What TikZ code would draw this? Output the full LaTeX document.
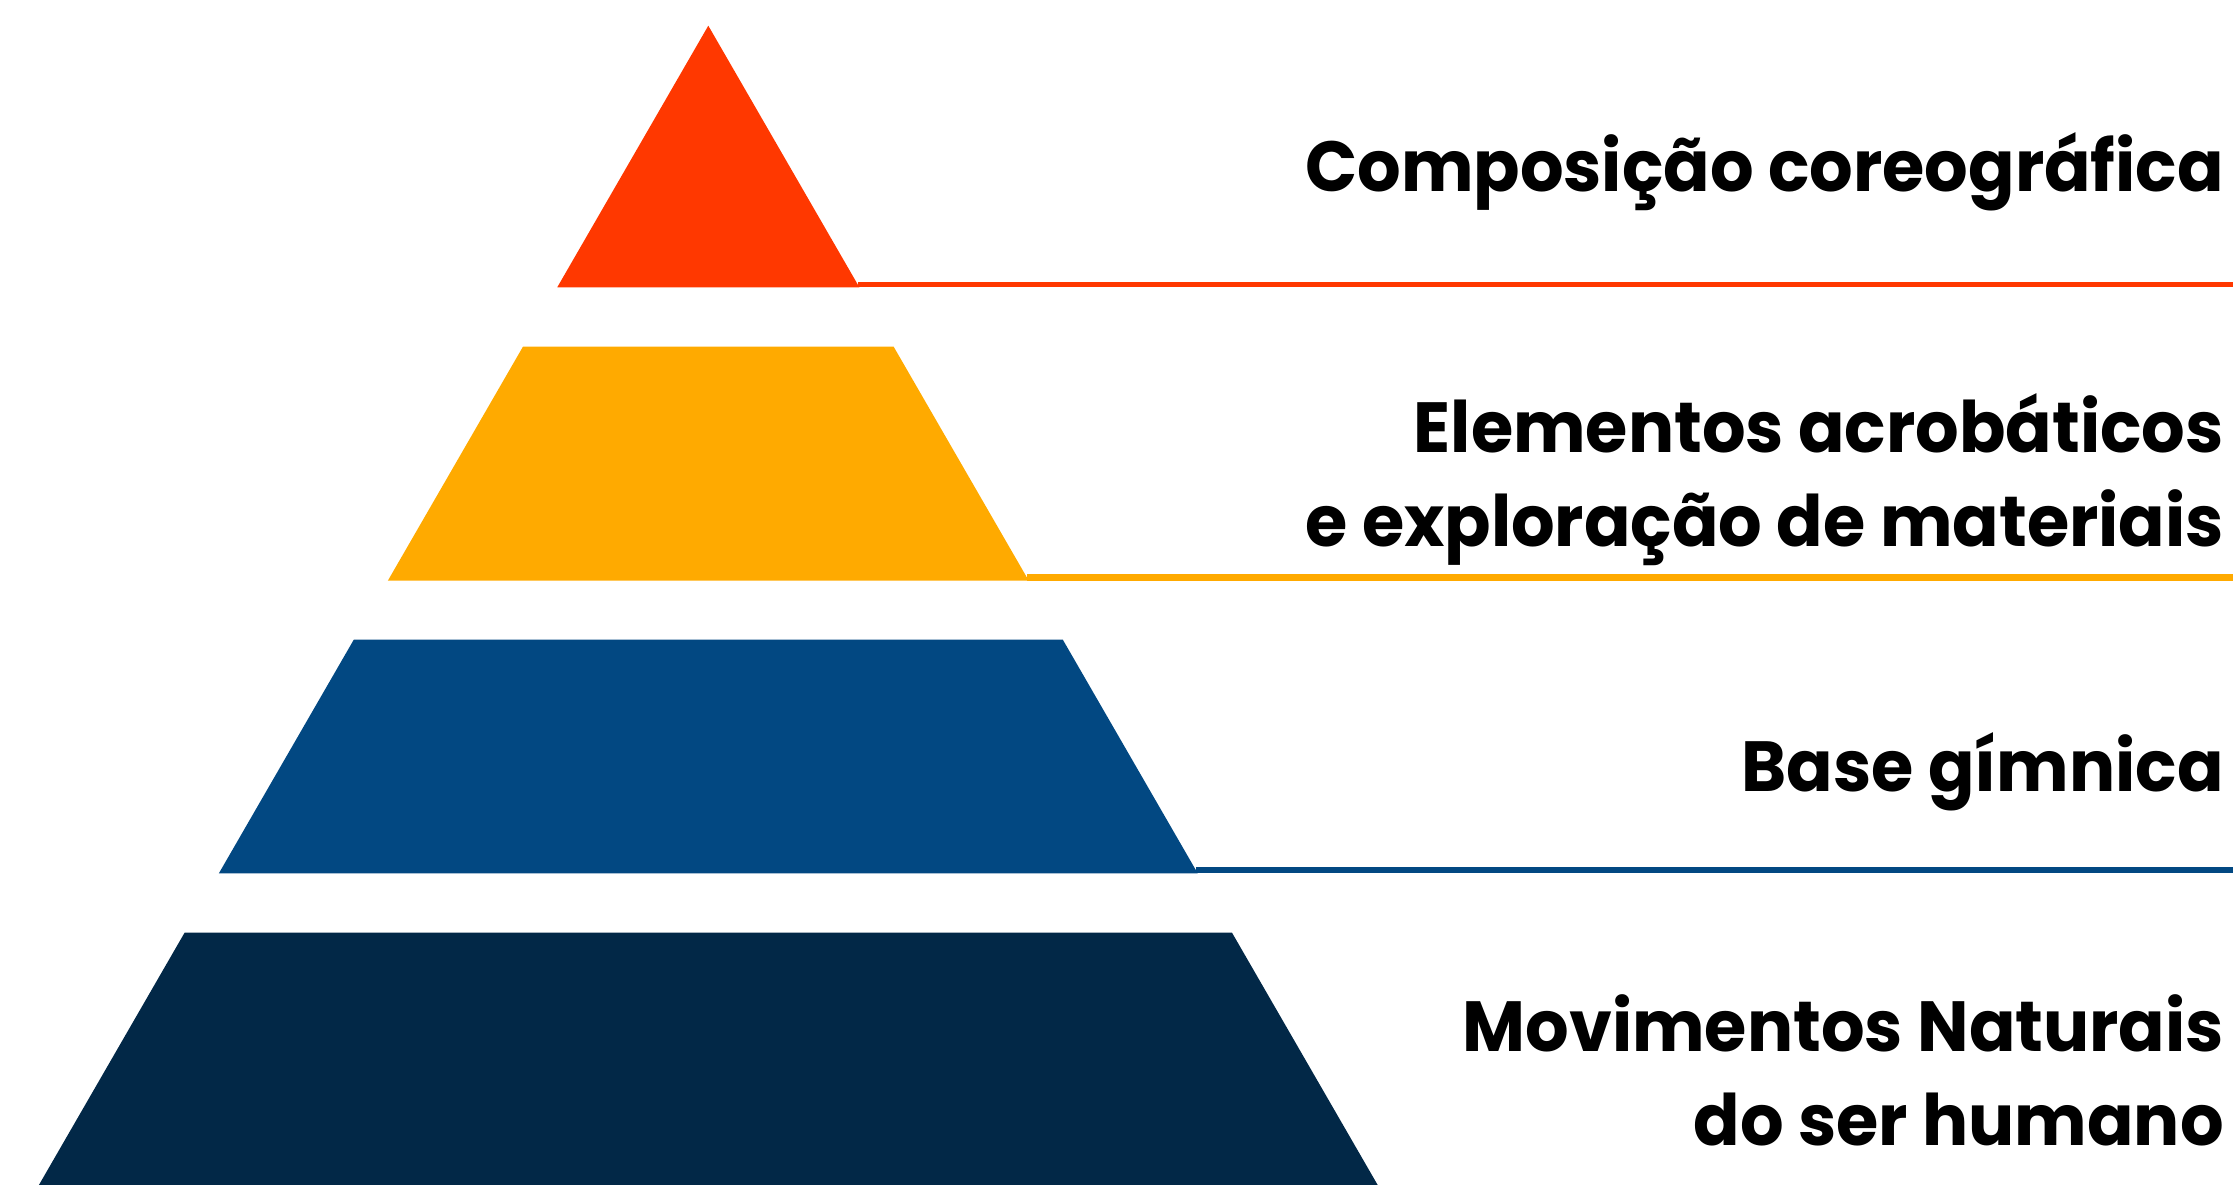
\documentclass[tikz,border=0pt]{standalone}
\usepackage{fontspec}
\setmainfont{Poppins}
\definecolor{cred}{HTML}{FF3800}
\definecolor{corange}{HTML}{FFAA00}
\definecolor{cblue}{HTML}{024882}
\definecolor{cnavy}{HTML}{022847}
\newcommand{\narrowtext}[1]{\scalebox{0.965}[1]{#1}}
\tikzset{
  lbl/.style={anchor=base east, inner sep=0pt, font=\bfseries\fontsize{71}{94}\selectfont, text=black},
}
\begin{document}
\begin{tikzpicture}[x=1pt,y=-1pt]
\useasboundingbox (0,0) rectangle (2233,1185);
% bands
\fill[cred] (708.3,25.7) -- (859.35,287.3) -- (557.25,287.3) -- cycle;
\fill[cred] (858,281.6) rectangle (2233,287.3);
\fill[corange] (522.95,346.7) -- (893.65,346.7) -- (1028.76,580.7) -- (387.84,580.7) -- cycle;
\fill[corange] (1027,574.4) rectangle (2233,580.7);
\fill[cblue] (353.78,639.7) -- (1062.82,639.7) -- (1197.7,873.3) -- (218.9,873.3) -- cycle;
\fill[cblue] (1196,866.9) rectangle (2233,873.3);
\fill[cnavy] (184.71,932.5) -- (1231.89,932.5) -- (1377.68,1185) -- (38.92,1185) -- cycle;
% labels
\node[lbl] (t1) at (2224,192) {\narrowtext{Composição coreográfica}};
\node[lbl] (t2a) at (2224,452) {\narrowtext{Elementos acrobáticos}};
\node[lbl] (t2b) at (2224,546) {\narrowtext{e exploração de materiais}};
\node[lbl] (t3) at (2224,791) {\narrowtext{Base gímnica}};
\node[lbl] (t4a) at (2224,1051) {\narrowtext{Movimentos Naturais}};
\node[lbl] (t4b) at (2224,1145) {\narrowtext{do ser humano}};
\end{tikzpicture}
\end{document}
